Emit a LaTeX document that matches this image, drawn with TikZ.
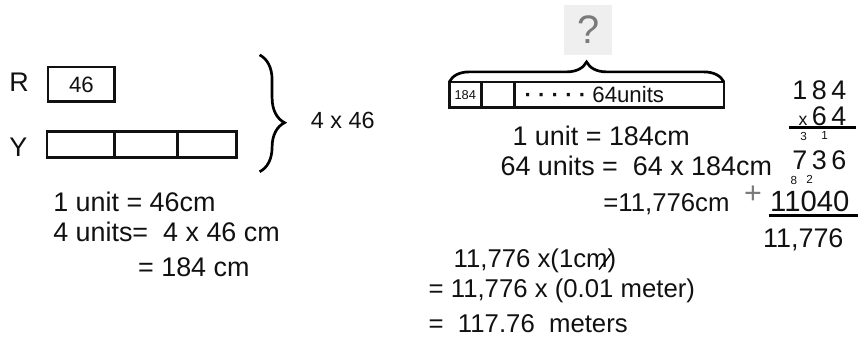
\documentclass[tikz,border=0pt]{standalone}
\usepackage{fontspec}
\setmainfont{Liberation Sans}
\usetikzlibrary{decorations.pathreplacing}
\definecolor{Paper}{HTML}{FFFFFF}
\definecolor{Pencil}{HTML}{111111}
\definecolor{AskFill}{HTML}{EFEFEF}
\definecolor{AskInk}{HTML}{7A7A7A}

\begin{document}
\begin{tikzpicture}[x=0.03cm,y=-0.03cm,line width=2.3pt,every node/.style={text=Pencil},
  hand/.style={anchor=west,inner sep=0pt,font=\fontsize{23}{25}\selectfont},
  small/.style={anchor=west,inner sep=0pt,font=\fontsize{22}{24}\selectfont},
  carry/.style={inner sep=0pt,font=\fontsize{10}{10}\selectfont},
  cell/.style={draw=Pencil,line width=2.3pt,inner sep=0pt,outer sep=0pt,anchor=west,minimum height=0.78cm}]
\fill[Paper] (0,0) rectangle (859,338);
\node[hand] (rlab) at (8,82) {R};
\node[cell,minimum width=2.01cm,minimum height=1.05cm,font=\fontsize{19}{19}\selectfont] (rbox) at (48,84.5) {46};
\node[hand] (ylab) at (8,147) {Y};
\node[cell,minimum width=2.04cm] (y1) at (47,145) {};
\node[cell,minimum width=1.89cm] (y2) at (y1.east) {};
\node[cell,minimum width=1.77cm] (y3) at (y2.east) {};
\draw[decorate,decoration={brace,amplitude=0.75cm,aspect=0.58}] (260,55) -- (260,172);
\node[hand,font=\fontsize{20}{22}\selectfont] (total) at (310,121) {4 x 46};
\node[hand] (l1) at (52,202) {1 unit = 46cm};
\node[hand] (l2) at (52,232) {4 units= \ 4 x 46 cm};
\node[hand] (l3) at (137,268) {= 184 cm};
\node[cell,minimum width=0.96cm,font=\fontsize{11}{11}\selectfont] (b1) at (450,95) {184};
\node[cell,minimum width=0.99cm] (b2) at (b1.east) {};
\node[cell,minimum width=6.3cm] (b3) at (b2.east) {};
\node[hand,font=\fontsize{19}{19}\selectfont] (more) at (524,95) {\textbf{·\ ·\ ·\ ·\ ·}\ 64units};
\draw[decorate,decoration={brace,amplitude=0.6cm}] (b1.north west) -- (b3.north east);
\node[fill=AskFill,text=AskInk,minimum width=1.44cm,minimum height=1.5cm,inner sep=0pt,font=\fontsize{34}{34}\selectfont] (ask) at (589,30) {?};
\node[hand] (r1) at (512,136) {1 unit = 184cm};
\node[hand] (r2) at (500,166) {64 units = \ 64 x 184cm};
\node[small] (r3) at (603,204) {=11,776cm};
\node[hand,anchor=east] (m1) at (849,90) {1\,8\,4};
\node[hand,anchor=east] (m2) at (849,116) {{\fontsize{15}{15}\selectfont x}\,6\,4};
\draw (790,128) -- (857,128);
\node[carry] (c1) at (805,137) {3};
\node[carry] (c2) at (826,136) {1};
\node[hand,anchor=east] (m3) at (849,160) {7\,3\,6};
\node[hand,text=AskInk,font=\fontsize{26}{26}\selectfont] (plus) at (744,195) {+};
\node[hand,anchor=east,font=\fontsize{25}{25}\selectfont] (m4) at (852,202) {11040};
\node[carry] (c3) at (795,181) {8};
\node[carry] (c4) at (811,180) {2};
\draw (770,216) -- (859,216);
\node[hand] (m5) at (763,240) {11,776};
\node[small] (s1) at (453,261) {11,776 x(1cm)};
\draw[line width=1.2pt] (600,270) -- (612,254);
\node[small] (s2) at (428,291) {= 11,776 x (0.01 meter)};
\node[small] (s3) at (428,324) {=\ \ 117.76\ \ meters};
\end{tikzpicture}
\end{document}
